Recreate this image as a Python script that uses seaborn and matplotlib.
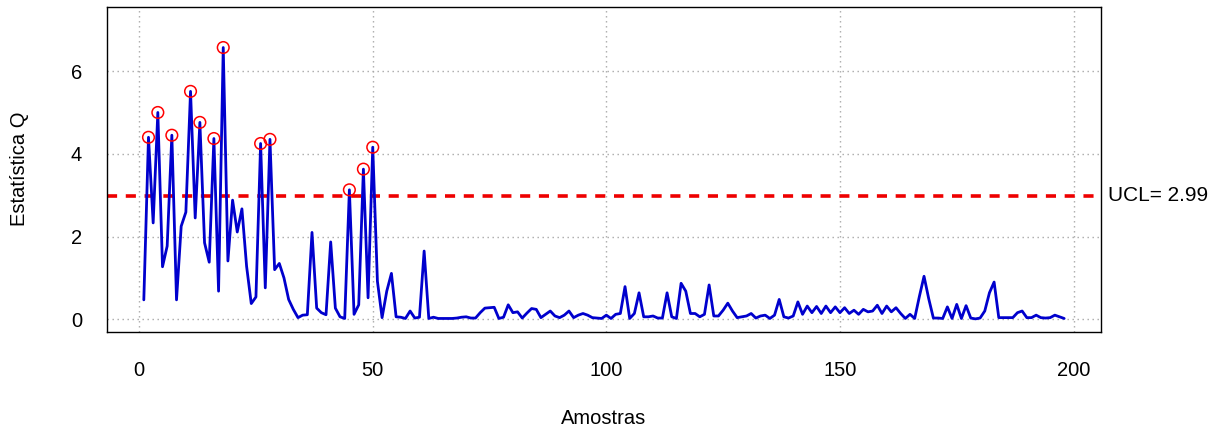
import numpy as np
import pandas as pd
import matplotlib
matplotlib.use("Agg")
import matplotlib.pyplot as plt
import seaborn as sns

# ---- data ----
q_values = [
    0.47, 4.40, 2.33, 5.00, 1.27, 1.77, 4.45, 0.47, 2.25, 2.59,
    5.51, 2.45, 4.76, 1.85, 1.38, 4.37, 0.68, 6.57, 1.41, 2.88,
    2.11, 2.67, 1.28, 0.38, 0.54, 4.25, 0.76, 4.35, 1.20, 1.35,
    1.00, 0.48, 0.24, 0.04, 0.10, 0.11, 2.10, 0.27, 0.16, 0.11,
    1.87, 0.27, 0.06, 0.02, 3.13, 0.12, 0.35, 3.63, 0.52, 4.16,
    0.92, 0.04, 0.68, 1.11, 0.06, 0.05, 0.02, 0.20, 0.03, 0.05,
    1.65, 0.02, 0.05, 0.02, 0.02, 0.02, 0.02, 0.03, 0.05, 0.06,
    0.03, 0.03, 0.16, 0.27, 0.28, 0.29, 0.02, 0.05, 0.35, 0.16,
    0.18, 0.03, 0.15, 0.26, 0.24, 0.04, 0.12, 0.20, 0.08, 0.04,
    0.10, 0.20, 0.04, 0.10, 0.14, 0.10, 0.04, 0.03, 0.02, 0.10,
    0.02, 0.12, 0.14, 0.79, 0.02, 0.14, 0.64, 0.06, 0.06, 0.08,
    0.03, 0.03, 0.64, 0.06, 0.02, 0.87, 0.68, 0.14, 0.14, 0.06,
    0.12, 0.83, 0.08, 0.08, 0.22, 0.39, 0.20, 0.04, 0.06, 0.08,
    0.14, 0.03, 0.08, 0.10, 0.02, 0.10, 0.48, 0.06, 0.03, 0.08,
    0.42, 0.12, 0.32, 0.16, 0.31, 0.14, 0.32, 0.16, 0.30, 0.16,
    0.28, 0.14, 0.22, 0.12, 0.24, 0.18, 0.20, 0.34, 0.14, 0.32,
    0.18, 0.28, 0.14, 0.02, 0.12, 0.02, 0.55, 1.04, 0.50, 0.03,
    0.03, 0.02, 0.30, 0.02, 0.36, 0.02, 0.33, 0.03, 0.01, 0.03,
    0.20, 0.64, 0.90, 0.04, 0.04, 0.04, 0.04, 0.16, 0.20, 0.04,
    0.04, 0.10, 0.04, 0.03, 0.04, 0.10, 0.06, 0.02,
]
samples = list(range(1, len(q_values) + 1))
ucl = 2.99
x_ticks = [0, 50, 100, 150, 200]
y_ticks = [0, 2, 4, 6]
x_label = "Amostras"
y_label = "Estatística Q"
ucl_label = f"UCL= {ucl:.2f}"

df = pd.DataFrame({"Amostra": samples, "Q": q_values})
out = df[df["Q"] > ucl]

# ---- style ----
sns.set_theme(style="white")
plt.rcParams["font.family"] = ["Liberation Sans", "DejaVu Sans"]

fig = plt.figure(figsize=(12.19, 4.30), dpi=100)
ax = fig.add_axes([107 / 1219, 1 - 331.7 / 430, (1101 - 107) / 1219, (331.7 - 7) / 430])

ax.set_xlim(-6.88, 205.88)
ax.set_ylim(-0.30, 7.55)

# grid
for xt in x_ticks:
    ax.axvline(xt, color="#a8a8a8", lw=1.0, dashes=(1, 2.6), zorder=0)
for yt in y_ticks:
    ax.axhline(yt, color="#a8a8a8", lw=1.0, dashes=(1, 2.6), zorder=0)

sns.lineplot(data=df, x="Amostra", y="Q", ax=ax, color="#0000CD", lw=2.0, zorder=3)
ax.axhline(ucl, color="#EE0000", lw=2.6, dashes=(2.8, 2.4), zorder=2)
sns.scatterplot(data=out, x="Amostra", y="Q", ax=ax, s=70, facecolor="none",
                edgecolor="#FF0000", linewidth=1.1, zorder=4)

ax.set_xticks(x_ticks)
ax.set_yticks(y_ticks)
ax.set_xticklabels([str(t) for t in x_ticks])
ax.set_yticklabels([str(t) for t in y_ticks])
ax.tick_params(axis="both", direction="out", length=10, width=1, color="black",
               labelsize=14.5, labelcolor="black")
ax.tick_params(axis="x", pad=11)
ax.tick_params(axis="y", pad=8)
ax.set_xlabel("")
ax.set_ylabel("")

for sp in ax.spines.values():
    sp.set_color("black")
    sp.set_linewidth(1.0)

fig.text(0.5 * (107 + 1101) / 1219, 1 - 418 / 430, x_label, ha="center", va="center",
         fontsize=14.5, color="black")
fig.text(20 / 1219, 1 - 169 / 430, y_label, ha="center", va="center", rotation=90,
         fontsize=14.5, color="black")
ax.text(1.007, ucl, ucl_label, transform=ax.get_yaxis_transform(), ha="left", va="center",
        fontsize=15, color="black", clip_on=False)

fig.savefig("out.png", dpi=100)
